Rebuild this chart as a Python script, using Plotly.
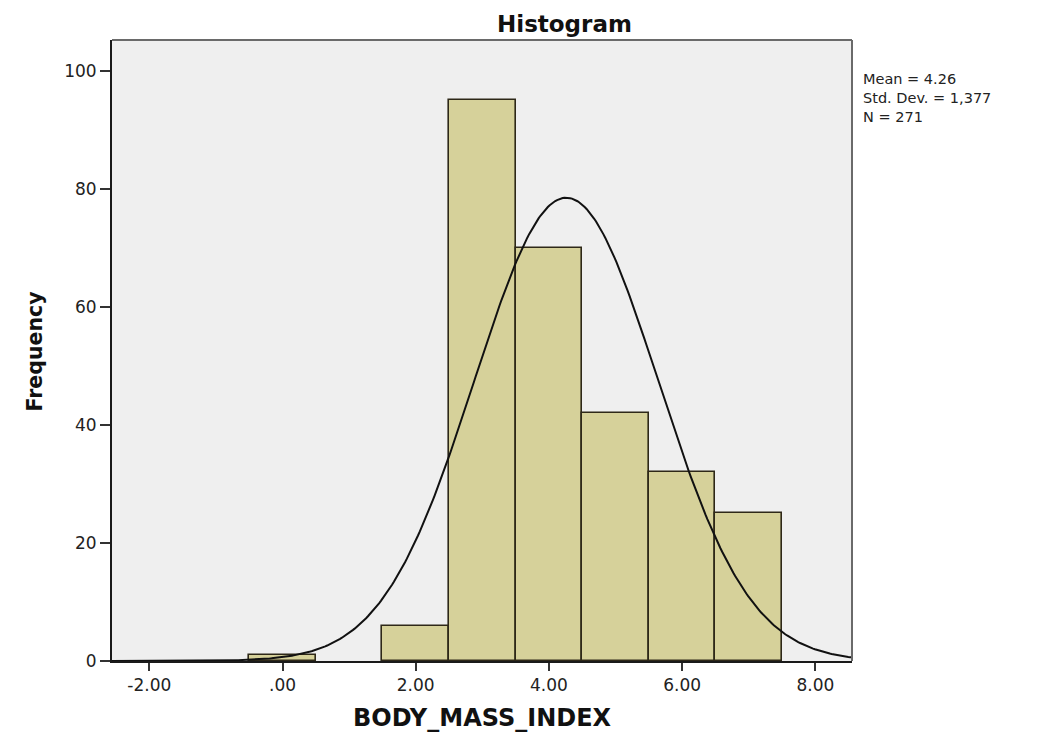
import numpy as np
import plotly.graph_objects as go

bin_centers = [0, 2, 3, 4, 5, 6, 7]
frequencies = [1, 6, 95, 70, 42, 32, 25]
x_tickvals = [-2, 0, 2, 4, 6, 8]
x_ticktext = ["-2.00", ".00", "2.00", "4.00", "6.00", "8.00"]
y_tickvals = [0, 20, 40, 60, 80, 100]
mean_val = 4.26
sd_val = 1.377
n_val = 271
bin_width = 1.0
stats_lines = ["Mean = 4.26", "Std. Dev. = 1,377", "N = 271"]

X_RANGE = [-2.56, 8.55]
Y_RANGE = [0, 105.25]

xc = np.linspace(X_RANGE[0], X_RANGE[1], 400)
yc = n_val * bin_width / (sd_val * np.sqrt(2 * np.pi)) * np.exp(-0.5 * ((xc - mean_val) / sd_val) ** 2)

FONT = "DejaVu Sans, Verdana, sans-serif"

fig = go.Figure()
fig.add_trace(go.Bar(
    x=bin_centers, y=frequencies, width=bin_width,
    marker=dict(color="#d6d19a", line=dict(color="#2e2818", width=1.6)),
    showlegend=False,
))
fig.add_trace(go.Scatter(
    x=xc, y=yc, mode="lines", line=dict(color="#111111", width=2), showlegend=False,
))

# page body has an 8px default margin, so the figure is sized to fit inside it
fig.update_layout(
    width=1035, height=724,
    margin=dict(l=104, r=191, t=32, b=71, autoexpand=False),
    paper_bgcolor="white", plot_bgcolor="#efefef",
    font=dict(family=FONT, color="#222222"),
    bargap=0,
)
fig.update_xaxes(
    range=X_RANGE, tickvals=x_tickvals, ticktext=x_ticktext, automargin=False,
    showgrid=False, zeroline=False, showline=True, linecolor="#1a1a1a", linewidth=2,
    ticks="outside", ticklen=8, tickwidth=2, tickcolor="#333333",
    tickfont=dict(size=17, family=FONT, color="#222222"),
)
fig.update_yaxes(
    range=Y_RANGE, tickvals=y_tickvals, automargin=False,
    showgrid=False, zeroline=False, showline=True, linecolor="#1a1a1a", linewidth=2,
    ticks="outside", ticklen=10, tickwidth=2, tickcolor="#333333",
    tickfont=dict(size=17, family=FONT, color="#222222"),
)
# gray top/right frame
fig.add_shape(type="line", xref="paper", yref="paper", x0=0, x1=1, y0=1, y1=1,
              line=dict(color="#6a6a6a", width=2))
fig.add_shape(type="line", xref="paper", yref="paper", x0=1, x1=1, y0=0, y1=1,
              line=dict(color="#6a6a6a", width=2))

# titles
fig.add_annotation(text="<b>Histogram</b>", xref="paper", yref="paper", x=0.612, y=1,
                   yshift=16.5, yanchor="middle", showarrow=False,
                   font=dict(size=23, family=FONT, color="#111111"))
fig.add_annotation(text="<b>BODY_MASS_INDEX</b>", xref="paper", yref="paper", x=0.5007, y=0,
                   yshift=-57, yanchor="middle", showarrow=False,
                   font=dict(size=24, family=FONT, color="#111111"))
fig.add_annotation(text="<b>Frequency</b>", xref="paper", yref="paper", x=0, y=0.4984,
                   xshift=-77, xanchor="center", yanchor="middle", textangle=-90, showarrow=False,
                   font=dict(size=20.5, family=FONT, color="#111111"))
fig.add_annotation(text="<br>".join(stats_lines), xref="paper", yref="paper", x=1, xshift=9,
                   y=1, yshift=-58, xanchor="left", yanchor="middle",
                   align="left", showarrow=False,
                   font=dict(size=14.5, family=FONT, color="#222222"))

fig.write_html("out.html")
